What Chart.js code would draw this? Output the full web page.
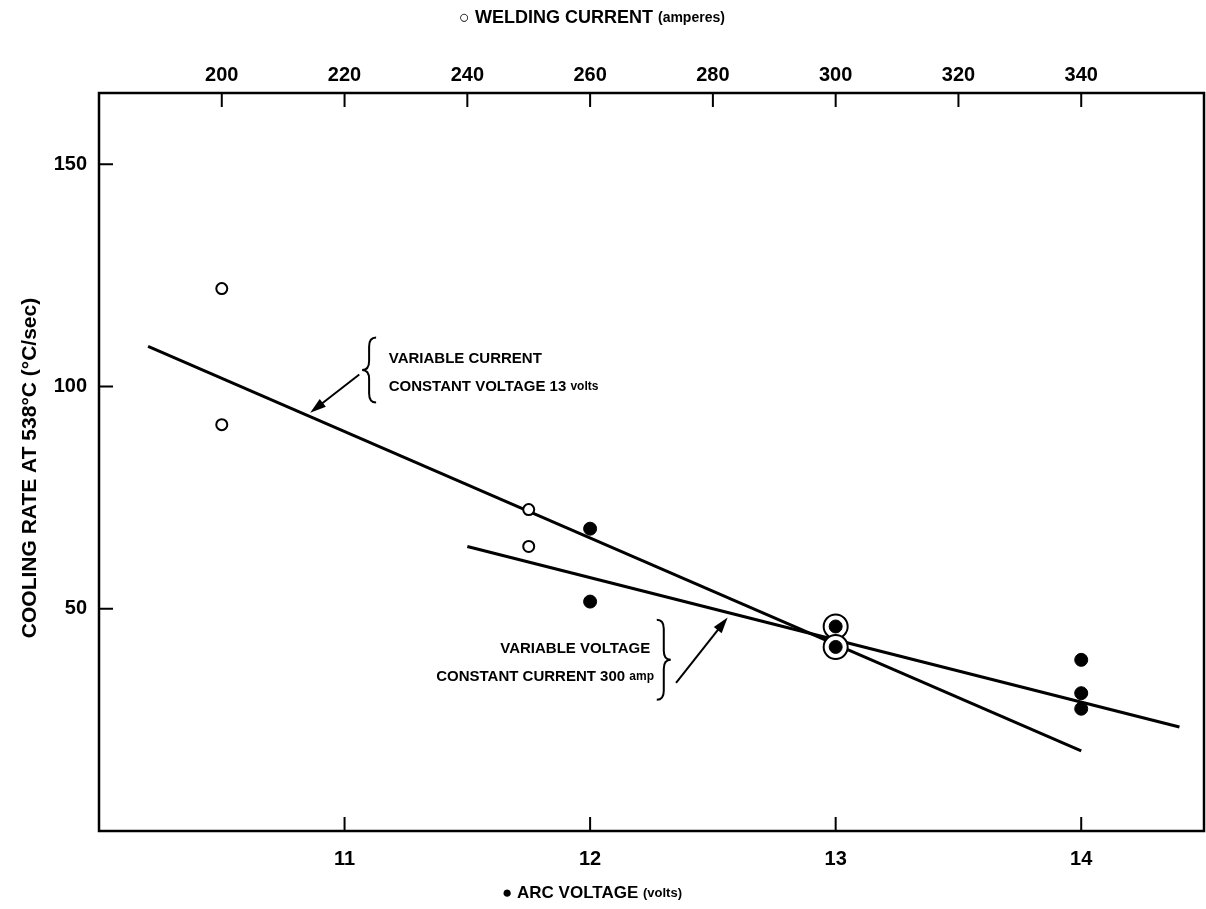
<!DOCTYPE html>
<html>
<head>
<meta charset="utf-8">
<script src="https://cdn.jsdelivr.net/npm/chart.js@4.4.1/dist/chart.umd.min.js"></script>
<style>
  html, body { margin: 0; padding: 0; background: #fff; overflow: hidden; }
</style>
</head>
<body>
<canvas id="coolingChart" width="1206" height="909"></canvas>
<script>
// arc voltage series (filled dots, bottom axis, volts)
const voltageX = [12, 12, 13, 13, 14, 14, 14];
const voltageY = [68, 51.6, 46, 41.4, 38.5, 31, 27.5];
// welding current series (open circles, top axis, amperes)
const currentX = [200, 200, 250, 250, 300, 300];
const currentY = [122, 91.4, 72.3, 64, 46, 41.4];
// fitted lines
const currentFitX = [188, 340];
const currentFitY = [109, 18];
const voltageFitX = [11.5, 14.4];
const voltageFitY = [64, 23.4];
// tick labels
const voltTicks = [11, 12, 13, 14];
const ampTicks = [200, 220, 240, 260, 280, 300, 320, 340];
const rateTicks = [50, 100, 150];

const toPoints = (xs, ys) => xs.map((x, i) => ({ x: x, y: ys[i] }));

Chart.defaults.font.family = "'Liberation Sans', Arial, sans-serif";
Chart.defaults.font.weight = 'bold';
Chart.defaults.color = '#000';

function drawBrace(ctx, x, top, bot, dir) {
    const w = 7 * dir, r = 9, mid = (top + bot) / 2;
    ctx.beginPath();
    ctx.moveTo(x + w, top);
    ctx.quadraticCurveTo(x, top, x, top + r);
    ctx.lineTo(x, mid - r);
    ctx.quadraticCurveTo(x, mid, x - w, mid);
    ctx.quadraticCurveTo(x, mid, x, mid + r);
    ctx.lineTo(x, bot - r);
    ctx.quadraticCurveTo(x, bot, x + w, bot);
    ctx.stroke();
}

function drawArrow(ctx, x1, y1, x2, y2) {
    const a = Math.atan2(y2 - y1, x2 - x1);
    ctx.beginPath();
    ctx.moveTo(x1, y1);
    ctx.lineTo(x2 - 8 * Math.cos(a), y2 - 8 * Math.sin(a));
    ctx.stroke();
    ctx.beginPath();
    ctx.moveTo(x2, y2);
    ctx.lineTo(x2 - 16 * Math.cos(a) + 5 * Math.sin(a), y2 - 16 * Math.sin(a) - 5 * Math.cos(a));
    ctx.lineTo(x2 - 16 * Math.cos(a) - 5 * Math.sin(a), y2 - 16 * Math.sin(a) + 5 * Math.cos(a));
    ctx.closePath();
    ctx.fill();
}

const framePlugin = {
    id: 'frame',
    afterDraw(chart) {
        const ctx = chart.ctx;
        const area = chart.chartArea;
        const sx = chart.scales.x, sx2 = chart.scales.x2, sy = chart.scales.y;
        const fam = " 'Liberation Sans', Arial, sans-serif";
        ctx.save();
        ctx.strokeStyle = '#000';
        ctx.fillStyle = '#000';
        ctx.lineWidth = 2.5;
        ctx.strokeRect(area.left, area.top, area.right - area.left, area.bottom - area.top);

        // inward tick marks
        ctx.lineWidth = 2;
        ctx.beginPath();
        voltTicks.forEach(v => {
            const px = sx.getPixelForValue(v);
            ctx.moveTo(px, area.bottom); ctx.lineTo(px, area.bottom - 14);
        });
        ampTicks.forEach(v => {
            const px = sx2.getPixelForValue(v);
            ctx.moveTo(px, area.top); ctx.lineTo(px, area.top + 14);
        });
        rateTicks.forEach(v => {
            const py = sy.getPixelForValue(v);
            ctx.moveTo(area.left, py); ctx.lineTo(area.left + 14, py);
        });
        ctx.stroke();

        // axis titles
        ctx.textBaseline = 'middle';
        ctx.textAlign = 'left';
        const drawParts = (parts, cx, cy) => {
            let total = 0;
            parts.forEach(p => { ctx.font = p[1] + fam; total += ctx.measureText(p[0]).width; });
            let x = cx - total / 2;
            parts.forEach(p => { ctx.font = p[1] + fam; ctx.fillText(p[0], x, cy); x += ctx.measureText(p[0]).width; });
        };
        drawParts([['○ WELDING CURRENT ', 'bold 18px'], ['(amperes)', 'bold 14px']], 592, 18);
        drawParts([['● ARC VOLTAGE ', 'bold 17px'], ['(volts)', 'bold 13px']], 592, 893);

        ctx.save();
        ctx.translate(30, 468);
        ctx.rotate(-Math.PI / 2);
        ctx.textAlign = 'center';
        ctx.font = 'bold 21px' + fam;
        ctx.fillText('COOLING RATE AT 538°C (°C/sec)', 0, 0);
        ctx.restore();

        // annotations, anchored in data units
        ctx.lineWidth = 2;
        const px = v => sx.getPixelForValue(v), py = v => sy.getPixelForValue(v);

        drawBrace(ctx, px(11.1), py(111), py(96.4), 1);
        drawArrow(ctx, px(11.06), py(102.7), px(10.86), py(94.1));
        ctx.textAlign = 'left';
        ctx.font = 'bold 15px' + fam;
        ctx.fillText('VARIABLE CURRENT', px(11.18), py(106.2));
        ctx.fillText('CONSTANT VOLTAGE 13 ', px(11.18), py(100));
        const w = ctx.measureText('CONSTANT VOLTAGE 13 ').width;
        ctx.font = 'bold 12px' + fam;
        ctx.fillText('volts', px(11.18) + w, py(100));

        drawBrace(ctx, px(12.3), py(47.5), py(29.5), -1);
        drawArrow(ctx, px(12.35), py(33.3), px(12.56), py(48));
        ctx.textAlign = 'right';
        ctx.font = 'bold 15px' + fam;
        ctx.fillText('VARIABLE VOLTAGE', px(12.245), py(41));
        ctx.font = 'bold 12px' + fam;
        const ampW = ctx.measureText('amp').width;
        ctx.fillText('amp', px(12.26), py(34.6));
        ctx.font = 'bold 15px' + fam;
        ctx.fillText('CONSTANT CURRENT 300 ', px(12.26) - ampW, py(34.6));
        ctx.restore();
    }
};

const noSidePad = s => { s.paddingLeft = 0; s.paddingRight = 0; };

const ctx = document.getElementById('coolingChart').getContext('2d');
new Chart(ctx, {
    type: 'scatter',
    data: {
        datasets: [
            {
                label: 'Arc voltage',
                data: toPoints(voltageX, voltageY),
                xAxisID: 'x',
                pointRadius: 6.5,
                pointBackgroundColor: '#000',
                pointBorderColor: '#000',
                order: 0
            },
            {
                label: 'Welding current',
                data: toPoints(currentX, currentY),
                xAxisID: 'x2',
                pointRadius: c => (c.raw && c.raw.x === 300 ? 12 : 5.5),
                pointBackgroundColor: '#fff',
                pointBorderColor: '#000',
                pointBorderWidth: 2,
                order: 1
            },
            {
                label: 'Variable current fit',
                type: 'line',
                data: toPoints(currentFitX, currentFitY),
                xAxisID: 'x2',
                borderColor: '#000',
                borderWidth: 3,
                pointRadius: 0,
                order: 2
            },
            {
                label: 'Variable voltage fit',
                type: 'line',
                data: toPoints(voltageFitX, voltageFitY),
                xAxisID: 'x',
                borderColor: '#000',
                borderWidth: 3,
                pointRadius: 0,
                order: 2
            }
        ]
    },
    options: {
        responsive: false,
        animation: false,
        // big 300 A circles would otherwise push the frame in by their radius
        layout: { autoPadding: false, padding: { right: 2 } },
        plugins: { legend: { display: false }, tooltip: { enabled: false } },
        scales: {
            x: {
                type: 'linear',
                position: 'bottom',
                min: 10,
                max: 14.5,
                afterBuildTicks: s => { s.ticks = voltTicks.map(v => ({ value: v })); },
                afterFit: s => { s.height = 78; noSidePad(s); },
                grid: { display: false, drawTicks: false },
                border: { display: false },
                ticks: { padding: 16, font: { size: 20, weight: 'bold' }, color: '#000' }
            },
            x2: {
                type: 'linear',
                position: 'top',
                min: 180,
                max: 360,
                afterBuildTicks: s => { s.ticks = ampTicks.map(v => ({ value: v })); },
                afterFit: s => { s.height = 93; noSidePad(s); },
                grid: { display: false, drawTicks: false },
                border: { display: false },
                ticks: { padding: 6, font: { size: 20, weight: 'bold' }, color: '#000' }
            },
            y: {
                type: 'linear',
                min: 0,
                max: 166,
                afterBuildTicks: s => { s.ticks = rateTicks.map(v => ({ value: v })); },
                afterFit: s => { s.width = 99; s.paddingTop = 0; s.paddingBottom = 0; },
                grid: { display: false, drawTicks: false },
                border: { display: false },
                ticks: { padding: 12, font: { size: 20, weight: 'bold' }, color: '#000' }
            }
        }
    },
    plugins: [framePlugin]
});
</script>
</body>
</html>
